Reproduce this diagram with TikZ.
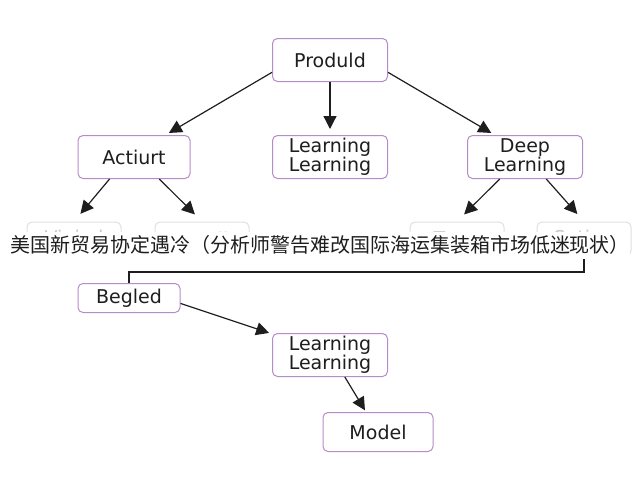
\documentclass[tikz,border=0pt]{standalone}
\usepackage{fontspec}
\setmainfont{DejaVu Sans}
\newfontfamily\cjk{Noto Sans CJK SC}
\usetikzlibrary{arrows.meta}

\definecolor{boxline}{RGB}{182,140,200}
\definecolor{fadeline}{RGB}{226,220,230}
\definecolor{fadetext}{RGB}{200,200,200}
\definecolor{ink}{RGB}{30,30,30}

\tikzset{
	box/.style = {draw = boxline, line width = 1pt, rounded corners = 5pt, fill = white, text = ink,
		font = \fontsize{19}{17}\selectfont, align = center, minimum width = 115pt, minimum height = 43pt, inner sep = 2pt},
	faded/.style = {draw = fadeline, line width = 1pt, rounded corners = 5pt, text = fadetext,
		font = \fontsize{19}{17}\selectfont, minimum width = 94pt, minimum height = 34pt},
	arr/.style = {-{Triangle[length=13pt, width=13pt]}, line width = 1.2pt, draw = ink, shorten > = 4pt},
	farr/.style = {arr, shorten > = 10pt}
}

\begin{document}
\begin{tikzpicture}[x=1pt, y=-1pt]
\useasboundingbox (0,0) rectangle (640,480);

\node[box] (produld) at (330,60) {Produld};
\node[box, minimum width = 112pt] (actiurt) at (134,157) {Actiurt};
\node[box] (learntop) at (330,157) {Learning\\Learning};
\node[box] (deep) at (525,157) {Deep\\Learning};

\foreach \name/\x/\word in {viqiod/74/Viqiod, email/202/Email, tram/457/Tram, sating/584/Sating}
{
	\node[faded] (\name) at (\x,239) {\word};
}

\node[box, minimum width = 102pt, minimum height = 29pt] (begled) at (129,298) {Begled};
\node[box] (learnlow) at (330,355) {Learning\\Learning};
\node[box, minimum width = 110pt, minimum height = 39pt] (model) at (378,432) {Model};

\draw[arr] (produld.192) -- (actiurt.35);
\draw[arr, shorten > = 6pt] (produld) -- (learntop);
\draw[arr] (produld.348) -- (deep.144);

\draw[farr] (actiurt.222) -- (viqiod.north);
\draw[farr] (actiurt.319) -- (email.north);
\draw[farr] (deep.221) -- (tram.north);
\draw[farr] (deep.314) -- (sating.north);

\coordinate (elbow) at (584,272);
\draw[line width = 1.1pt, ink] (sating.south) -- (elbow) -| (begled.north);

\node[fill = white, text = ink, font = \cjk\fontsize{20}{20}\selectfont, inner xsep = 0pt, minimum height = 27pt] (headline) at (320,245)
	{美国新贸易协定遇冷（分析师警告难改国际海运集装箱市场低迷现状）};

\draw[arr, shorten > = 3pt] (begled.354) -- (learnlow.160);
\draw[arr, shorten > = 2pt] (learnlow.304) -- (model.121);
\end{tikzpicture}
\end{document}
